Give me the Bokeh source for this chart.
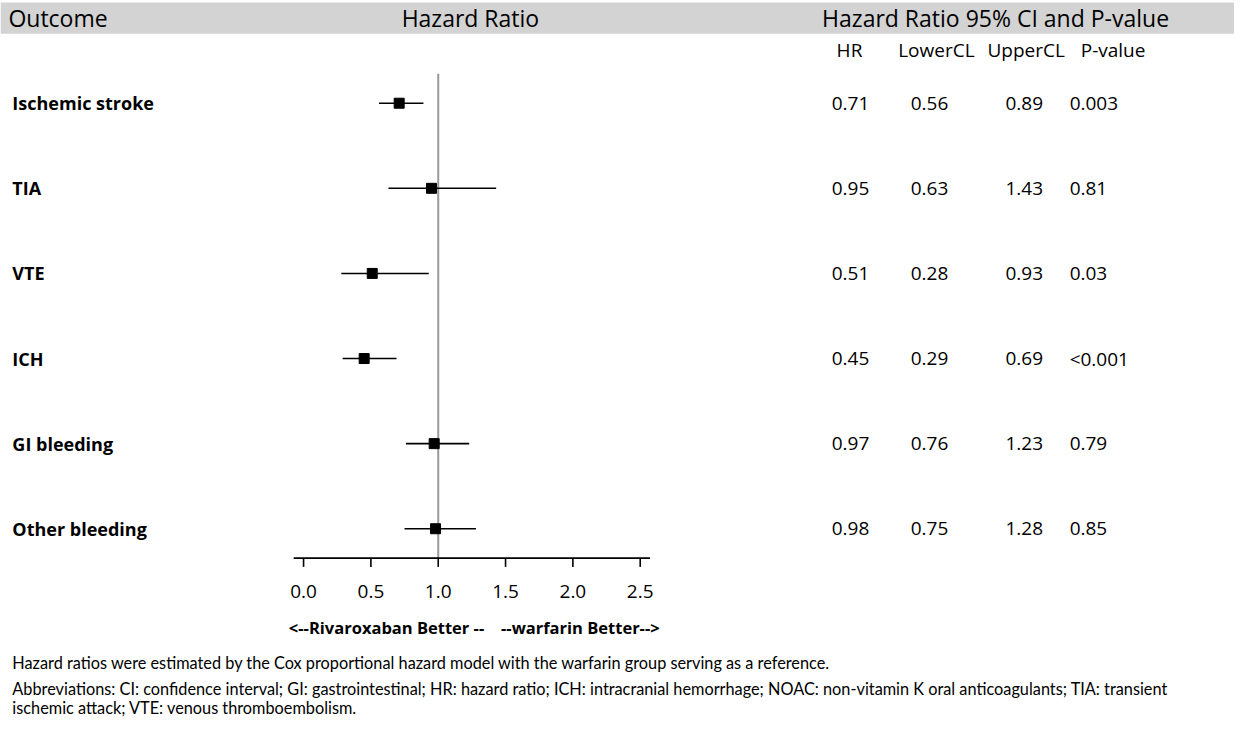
from bokeh.plotting import figure
from bokeh.models import Range1d, BoxAnnotation, ColumnDataSource
from bokeh.core.properties import value
from bokeh.embed import file_html
from bokeh.resources import INLINE

# ---- data ----
outcomes = ["Ischemic stroke", "TIA", "VTE", "ICH", "GI bleeding", "Other bleeding"]
hr = [0.71, 0.95, 0.51, 0.45, 0.97, 0.98]
lower = [0.56, 0.63, 0.28, 0.29, 0.76, 0.75]
upper = [0.89, 1.43, 0.93, 0.69, 1.23, 1.28]
pvals = ["0.003", "0.81", "0.03", "<0.001", "0.79", "0.85"]
ticks = [0.0, 0.5, 1.0, 1.5, 2.0, 2.5]
col_headers = ["HR", "LowerCL", "UpperCL", "P-value"]
footnotes = [
    "Hazard ratios were estimated by the Cox proportional hazard model with the warfarin group serving as a reference.",
    "Abbreviations: CI: confidence interval; GI: gastrointestinal; HR: hazard ratio; ICH: intracranial hemorrhage; NOAC: non-vitamin K oral anticoagulants; TIA: transient",
    "ischemic attack; VTE: venous thromboembolism.",
]

W, H = 1234, 719
FONT = value("Open Sans")
FOOT = value("Lato")

# layout helpers (reference-picture pixel -> data units)
X0, XS = 307.0, 136.4   # pixel of HR=0 and pixels per HR unit
Y0, YS = 105.0, 87.0    # pixel of first row and pixels per row


def px(x):
    return (x - X0) / XS


def py(y):
    return (y - Y0) / YS


p = figure(width=W, height=H, output_backend="svg", toolbar_location=None,
           x_range=Range1d(px(0), px(1250)), y_range=Range1d(py(735), py(0)),
           min_border=0, background_fill_color="white", border_fill_color="white")
p.axis.visible = False
p.grid.visible = False
p.outline_line_color = None

# header band
p.add_layout(BoxAnnotation(top=py(2), bottom=py(34), fill_color="#d3d3d3",
                           fill_alpha=1.0, line_color=None, level="underlay"))
p.text(x=[px(8)], y=[py(18)], text=["Outcome"], text_font=FONT, text_font_size="23px",
       text_align="left", text_baseline="middle", text_color="black")
p.text(x=[px(476)], y=[py(18)], text=["Hazard Ratio"], text_font=FONT, text_font_size="23px",
       text_align="center", text_baseline="middle", text_color="black")
p.text(x=[px(1008)], y=[py(18)], text=["Hazard Ratio 95% CI and P-value"], text_font=FONT,
       text_font_size="23px", text_align="center", text_baseline="middle", text_color="black")

# column headers
hdr_x = [px(860), px(948), px(1039), px(1127)]
p.text(x=hdr_x, y=[py(51)] * 4, text=col_headers, text_font=FONT, text_font_size="19px",
       text_align="center", text_baseline="middle", text_color="black")

rows = list(range(len(outcomes)))
src = ColumnDataSource(dict(
    y=rows, outcome=outcomes, hr=hr, lower=lower, upper=upper,
    hr_s=[f"{v:.2f}" for v in hr], lo_s=[f"{v:.2f}" for v in lower],
    up_s=[f"{v:.2f}" for v in upper], p_s=pvals,
))

# reference line at HR = 1
p.segment(x0=[1.0], x1=[1.0], y0=[py(75)], y1=[py(571)], line_color="#9a9a9a", line_width=2)

# CI lines and squares
p.segment(x0="lower", x1="upper", y0="y", y1="y", source=src, line_color="black", line_width=1.6)
p.scatter(x="hr", y="y", source=src, marker="square", size=10, fill_color="black",
          line_color="black")

# outcome labels
p.text(x=px(12), y="y", text="outcome", source=src, text_font=FONT, text_font_size="18px",
       text_font_style="bold", text_align="left", text_baseline="middle", text_color="black")

# table values
for col, xl in (("hr_s", 842), ("lo_s", 922), ("up_s", 1018), ("p_s", 1083)):
    p.text(x=px(xl), y="y", text=col, source=src, text_font=FONT, text_font_size="19px",
           text_align="left", text_baseline="middle", text_color="black")

# x axis (drawn)
p.segment(x0=[px(297)], x1=[px(658)], y0=[py(570)], y1=[py(570)], line_color="black", line_width=1.6)
p.segment(x0=ticks, x1=ticks, y0=[py(570)] * len(ticks), y1=[py(579)] * len(ticks),
          line_color="black", line_width=1.6)
p.text(x=ticks, y=[py(604)] * len(ticks), text=[f"{t:.1f}" for t in ticks], text_font=FONT,
       text_font_size="19px", text_align="center", text_baseline="middle", text_color="black")

p.text(x=[px(490)], y=[py(641)], text=["<--Rivaroxaban Better --"], text_font=FONT,
       text_font_size="16.5px", text_font_style="bold", text_align="right", text_baseline="middle",
       text_color="black")
p.text(x=[px(507)], y=[py(641)], text=["--warfarin Better-->"], text_font=FONT,
       text_font_size="16.5px", text_font_style="bold", text_align="left", text_baseline="middle",
       text_color="black")

# footnotes
p.text(x=[px(12)] * 3, y=[py(677), py(703), py(723)], text=footnotes, text_font=FOOT,
       text_font_size="16.3px", text_align="left", text_baseline="middle", text_color="black")

open("out.html", "w").write(file_html(p, INLINE))
